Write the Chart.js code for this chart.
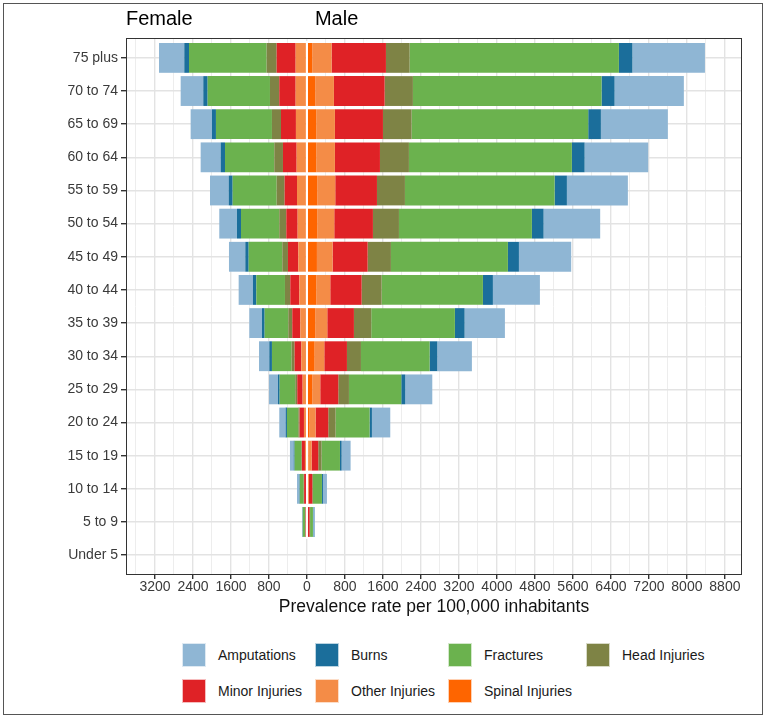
<!DOCTYPE html>
<html>
<head>
<meta charset="utf-8">
<title>Injury prevalence by age and sex</title>
<script src="https://cdn.jsdelivr.net/npm/chart.js@4.4.1/dist/chart.umd.min.js"></script>
<style>
  html, body { margin: 0; padding: 0; background: #fff; }
  #wrap { position: relative; width: 766px; height: 718px; font-family: "Liberation Sans", Arial, sans-serif; }
  #frame { position: absolute; left: 3px; top: 3px; right: 3px; bottom: 3px; border: 1px solid #555; pointer-events: none; }
  #chartBox { position: absolute; left: 0; top: 0; width: 766px; height: 620px; }
  .item { position: absolute; display: flex; align-items: center; font-size: 14px; color: #1a1a1a; white-space: nowrap; }
  .swatch { width: 24px; height: 24px; margin-right: 12px; box-sizing: border-box; border: 1px solid rgba(255,255,255,0.7); }
</style>
</head>
<body>
<div id="wrap">
  <div id="chartBox"><canvas id="pyramid"></canvas></div>
  <div id="legend"></div>
  <div id="frame"></div>
</div>
<script>
const ageGroups = ['75 plus', '70 to 74', '65 to 69', '60 to 64', '55 to 59', '50 to 54',
    '45 to 49', '40 to 44', '35 to 39', '30 to 34', '25 to 29', '20 to 24',
    '15 to 19', '10 to 14', '5 to 9', 'Under 5'];

const injuryTypes = ['Amputations', 'Burns', 'Fractures', 'Head Injuries',
    'Minor Injuries', 'Other Injuries', 'Spinal Injuries'];
const injuryColors = ['#8fb6d4', '#1b6e9b', '#6bb24e', '#7e8345',
    '#df2226', '#f48c47', '#fe6500'];

// female values (drawn to the left)
const femaleAmputations = [532, 476, 449, 421, 394, 372, 344, 301, 267, 217, 190, 134, 78, 49, 13, 0];
const femaleBurns       = [99, 92, 84, 91, 84, 85, 71, 71, 56, 56, 35, 28, 20, 10, 4, 0];
const femaleFractures   = [1635, 1312, 1179, 1038, 926, 806, 708, 603, 498, 414, 329, 239, 141, 81, 55, 0];
const femaleHead        = [211, 196, 190, 183, 168, 148, 119, 112, 84, 63, 42, 28, 14, 10, 5, 0];
const femaleMinor       = [400, 345, 315, 288, 260, 239, 218, 190, 169, 141, 113, 91, 63, 40, 20, 0];
const femaleOther       = [208, 208, 202, 187, 180, 166, 154, 136, 118, 99, 76, 51, 34, 15, 6, 0];
const femaleSpinal      = [30, 30, 30, 30, 30, 30, 28, 25, 22, 20, 15, 12, 8, 5, 2, 0];

// male values (drawn to the right)
const maleAmputations = [1528, 1459, 1410, 1339, 1284, 1192, 1101, 990, 849, 729, 569, 386, 189, 84, 37, 0];
const maleBurns       = [284, 274, 267, 268, 259, 246, 232, 210, 204, 161, 84, 49, 35, 21, 5, 0];
const maleFractures   = [4407, 3972, 3719, 3431, 3151, 2799, 2463, 2133, 1761, 1446, 1102, 716, 387, 190, 60, 0];
const maleHead        = [498, 596, 603, 610, 589, 548, 491, 421, 365, 295, 224, 154, 70, 14, 10, 0];
const maleMinor       = [1144, 1067, 1011, 948, 878, 814, 737, 660, 561, 477, 380, 267, 140, 72, 41, 0];
const maleOther       = [407, 393, 393, 393, 379, 358, 330, 295, 253, 204, 168, 127, 68, 25, 10, 0];
const maleSpinal      = [112, 175, 196, 196, 217, 217, 210, 196, 175, 161, 112, 55, 30, 15, 5, 0];

const femaleSeries = [femaleAmputations, femaleBurns, femaleFractures, femaleHead,
    femaleMinor, femaleOther, femaleSpinal];
const maleSeries = [maleAmputations, maleBurns, maleFractures, maleHead,
    maleMinor, maleOther, maleSpinal];

// Stacks grow outward from zero, so spinal goes first and amputations last.
const datasets = [];
for (let k = injuryTypes.length - 1; k >= 0; k--) {
    datasets.push({
        label: injuryTypes[k] + ' (female)',
        data: femaleSeries[k].map(v => -v),
        backgroundColor: injuryColors[k],
        stack: 'all'
    });
    datasets.push({
        label: injuryTypes[k] + ' (male)',
        data: maleSeries[k],
        backgroundColor: injuryColors[k],
        stack: 'all'
    });
}

const isMajor = v => Math.abs(v % 800) < 1e-6;

// ggplot pads a discrete axis by 0.6 of a category on each side
const categoryPad = {
    id: 'categoryPad',
    beforeUpdate(chart) {
        const y = chart.scales.y;
        if (y && !y._padded) {
            const base = y.configure;
            y.configure = function () {
                base.call(this);
                this._startValue = -0.6;
                this._valueRange = ageGroups.length - 1 + 1.2;
            };
            y._padded = true;
        }
    }
};

const overlay = {
    id: 'overlay',
    afterDatasetsDraw(chart) {
        const { ctx, chartArea: a, scales } = chart;
        const x0 = scales.x.getPixelForValue(0);
        const bars = chart.getDatasetMeta(0).data;
        ctx.save();
        ctx.strokeStyle = '#ffffff';
        ctx.lineWidth = 2;
        bars.forEach((bar, i) => {
            const total = femaleSeries.reduce((s, arr) => s + arr[i], 0) +
                maleSeries.reduce((s, arr) => s + arr[i], 0);
            if (!total) return;
            ctx.beginPath();
            ctx.moveTo(x0, bar.y - bar.height / 2 - 2);
            ctx.lineTo(x0, bar.y + bar.height / 2 + 2);
            ctx.stroke();
        });
        ctx.strokeStyle = '#333333';
        ctx.lineWidth = 1;
        ctx.strokeRect(Math.round(a.left) + 0.5, Math.round(a.top) + 0.5,
            Math.round(a.right - a.left) - 1, Math.round(a.bottom - a.top) - 1);
        ctx.fillStyle = '#000';
        ctx.font = '20px "Liberation Sans", Arial, sans-serif';
        ctx.textBaseline = 'alphabetic';
        ctx.textAlign = 'left';
        ctx.fillText('Female', a.left, 25);
        ctx.fillText('Male', x0 + 8, 25);
        ctx.restore();
    }
};

new Chart(document.getElementById('pyramid'), {
    type: 'bar',
    data: { labels: ageGroups, datasets: datasets },
    plugins: [categoryPad, overlay],
    options: {
        indexAxis: 'y',
        responsive: true,
        maintainAspectRatio: false,
        animation: false,
        categoryPercentage: 0.9,
        barPercentage: 1.0,
        layout: { padding: { left: 0, top: 38, right: 24, bottom: 0 } },
        scales: {
            x: {
                type: 'linear',
                stacked: true,
                min: -3810,
                max: 9160,
                afterFit: s => { s.height = 45; },
                border: { display: false },
                grid: {
                    color: c => isMajor(c.tick.value) ? '#e3e3e3' : '#ededed',
                    lineWidth: c => isMajor(c.tick.value) ? 1.4 : 1,
                    tickColor: c => isMajor(c.tick.value) ? '#333' : 'rgba(0,0,0,0)',
                    tickLength: 4
                },
                ticks: {
                    stepSize: 400,
                    includeBounds: false,
                    autoSkip: false,
                    maxRotation: 0,
                    padding: 0,
                    color: '#3a3a3a',
                    font: { family: '"Liberation Sans", Arial, sans-serif', size: 14 },
                    callback: v => isMajor(v) ? String(Math.abs(v)) : ''
                },
                title: {
                    display: true,
                    text: 'Prevalence rate per 100,000 inhabitants',
                    color: '#111',
                    font: { family: '"Liberation Sans", Arial, sans-serif', size: 17.5 },
                    padding: { top: 0, bottom: 2 }
                }
            },
            y: {
                type: 'category',
                stacked: true,
                afterFit: s => { s.width = 126; },
                border: { display: false },
                grid: {
                    offset: false,
                    color: '#e3e3e3',
                    lineWidth: 1.4,
                    tickColor: '#333',
                    tickLength: 5
                },
                ticks: {
                    padding: 3,
                    color: '#3a3a3a',
                    font: { family: '"Liberation Sans", Arial, sans-serif', size: 14 }
                }
            }
        },
        plugins: {
            legend: { display: false },
            tooltip: { enabled: false }
        }
    }
});

// legend laid out like the ggplot guide: four columns, two rows
const legendCols = [182, 315, 448, 586];
const legendRows = [643, 679];
const legendEl = document.getElementById('legend');
injuryTypes.forEach((name, i) => {
    const item = document.createElement('div');
    item.className = 'item';
    item.style.left = legendCols[i % 4] + 'px';
    item.style.top = legendRows[Math.floor(i / 4)] + 'px';
    const sw = document.createElement('span');
    sw.className = 'swatch';
    sw.style.background = injuryColors[i];
    const txt = document.createElement('span');
    txt.textContent = name;
    item.appendChild(sw);
    item.appendChild(txt);
    legendEl.appendChild(item);
});
</script>
</body>
</html>
